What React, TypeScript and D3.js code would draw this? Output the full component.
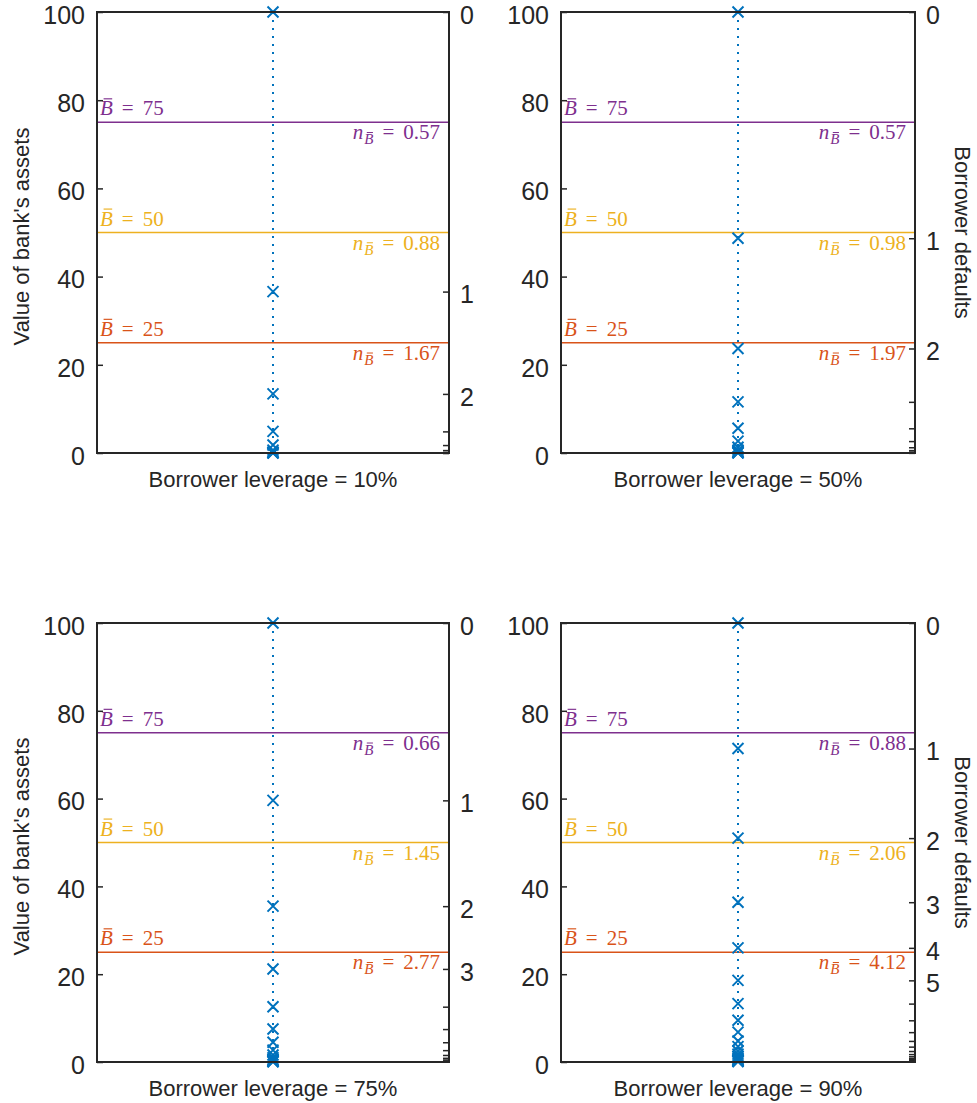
import { useEffect, useRef } from 'react'
import * as d3 from 'd3'

// Values (bank's assets after each borrower default)
const leverage = ['10%', '50%', '75%', '90%']
const assets10 = [100, 36.6, 13.4, 4.9, 1.8, 0.66, 0.24, 0.09, 0.03, 0.01]
const assets50 = [100, 48.7, 23.7, 11.6, 5.6, 2.7, 1.3, 0.65, 0.32, 0.15, 0.07, 0.03]
const assets75 = [100, 59.6, 35.5, 21.2, 12.6, 7.5, 4.5, 2.7, 1.6, 0.95, 0.57, 0.34, 0.2, 0.12, 0.07]
const assets90 = [100, 71.4, 51.0, 36.4, 26.0, 18.6, 13.3, 9.5, 6.8, 4.8, 3.5, 2.5, 1.8, 1.3, 0.9, 0.65, 0.46, 0.33, 0.24, 0.17, 0.12]

const thresholds = [75, 50, 25]
const thresholdColors = ['#7E2F8E', '#EDB120', '#D95319']

const nBar10 = ['0.57', '0.88', '1.67']
const nBar50 = ['0.57', '0.98', '1.97']
const nBar75 = ['0.66', '1.45', '2.77']
const nBar90 = ['0.88', '2.06', '4.12']

const defaults10 = ['0', '1', '2']
const defaults50 = ['0', '1', '2']
const defaults75 = ['0', '1', '2', '3']
const defaults90 = ['0', '1', '2', '3', '4', '5']

const leftTicks = [0, 20, 40, 60, 80, 100]

const W = 977
const H = 1103
const INK = '#262626'
const BLUE = '#0072BD'
const SANS = "'Liberation Sans', Arial, sans-serif"
const SERIF = "'Liberation Serif', serif"

const panels = [
  { lev: leverage[0], assets: assets10, n: nBar10, labels: defaults10, x0: 97, x1: 449, y0: 12, y1: 453, left: true, right: false },
  { lev: leverage[1], assets: assets50, n: nBar50, labels: defaults50, x0: 561, x1: 915, y0: 12, y1: 453, left: false, right: true },
  { lev: leverage[2], assets: assets75, n: nBar75, labels: defaults75, x0: 97, x1: 449, y0: 623, y1: 1062, left: true, right: false },
  { lev: leverage[3], assets: assets90, n: nBar90, labels: defaults90, x0: 561, x1: 915, y0: 623, y1: 1062, left: false, right: true },
]

// draw a bar over character idx of a text node (italic B)
function barOver(g: any, textSel: any, idx: number, baseline: number, fs: number, color: string) {
  const node = textSel.node() as SVGTextElement
  const ext = node.getExtentOfChar(idx)
  const top = baseline - 0.662 * fs
  g.append('line')
    .attr('x1', ext.x + ext.width * 0.28).attr('x2', ext.x + ext.width * 0.95)
    .attr('y1', top - fs * 0.12).attr('y2', top - fs * 0.12)
    .attr('stroke', color).attr('stroke-width', Math.max(1, fs * 0.055))
}

export default function App() {
  const svgRef = useRef<SVGSVGElement>(null)

  useEffect(() => {
    document.body.style.margin = '0'
    if (!svgRef.current) return
    const svg = d3.select(svgRef.current)
    svg.selectAll('*').remove()

    panels.forEach(p => {
      const g = svg.append('g')
      const y = d3.scaleLinear().domain([0, 100]).range([p.y1, p.y0])
      const x = d3.scaleLinear().domain([0, 1]).range([p.x0, p.x1])
      const cx = x(0.5)

      // threshold lines + labels
      thresholds.forEach((t, i) => {
        const c = thresholdColors[i]
        g.append('line')
          .attr('x1', p.x0).attr('x2', p.x1)
          .attr('y1', y(t)).attr('y2', y(t))
          .attr('stroke', c).attr('stroke-width', 1.6)

        const fs = 21
        const b1 = y(t) - 7
        const lbl = g.append('text')
          .attr('x', p.x0 + 3).attr('y', b1)
          .attr('fill', c)
          .attr('font-family', SERIF)
          .attr('font-size', fs)
        lbl.append('tspan').attr('font-style', 'italic').text('B')
        lbl.append('tspan').attr('dx', 9).text('=')
        lbl.append('tspan').attr('dx', 9).text(String(t))
        barOver(g, lbl, 0, b1, fs, c)

        const b2 = y(t) + 17
        const nl = g.append('text')
          .attr('x', p.x1 - 9).attr('y', b2)
          .attr('fill', c)
          .attr('text-anchor', 'end')
          .attr('font-family', SERIF)
          .attr('font-size', fs)
        nl.append('tspan').attr('font-style', 'italic').text('n')
        nl.append('tspan').attr('font-style', 'italic').attr('font-size', 15).attr('dy', 5).attr('dx', 1).text('B')
        nl.append('tspan').attr('dy', -5).attr('dx', 9).text('=')
        nl.append('tspan').attr('dx', 9).text(p.n[i])
        barOver(g, nl, 1, b2 + 5, 15, c)
      })

      // dotted connector
      const line = d3.line<number>().x(() => cx).y(d => y(d))
      g.append('path')
        .attr('d', line([...p.assets, 0]))
        .attr('fill', 'none')
        .attr('stroke', BLUE)
        .attr('stroke-width', 2)
        .attr('stroke-dasharray', '2,6')

      // x markers
      const s = 5.5
      g.selectAll('.mk')
        .data(p.assets)
        .join('path')
        .attr('class', 'mk')
        .attr('transform', d => `translate(${cx},${y(d)})`)
        .attr('d', `M${-s},${-s}L${s},${s}M${-s},${s}L${s},${-s}`)
        .attr('stroke', BLUE)
        .attr('stroke-width', 2)
        .attr('fill', 'none')

      // left axis
      g.append('g')
        .attr('transform', `translate(${p.x0},0)`)
        .call(d3.axisLeft(y).tickValues(leftTicks).tickSizeInner(-6).tickSizeOuter(0).tickPadding(12).tickFormat(d3.format('d')))
        .call(a => {
          a.select('.domain').remove()
          a.selectAll('.tick line').attr('stroke', INK).attr('stroke-width', 1.5)
          a.selectAll('text').attr('fill', INK).attr('font-size', 25).attr('dy', '0.45em')
            .attr('font-family', SANS)
        })

      // right axis: borrower defaults at each marker
      g.append('g')
        .attr('transform', `translate(${p.x1},0)`)
        .call(d3.axisRight(y).tickValues(p.assets).tickSizeInner(-6).tickSizeOuter(0).tickPadding(11)
          .tickFormat((_d, i) => p.labels[i] ?? ''))
        .call(a => {
          a.select('.domain').remove()
          a.selectAll('.tick line').attr('stroke', INK).attr('stroke-width', 1.5)
          a.selectAll('text').attr('fill', INK).attr('font-size', 25).attr('dy', '0.45em')
            .attr('font-family', SANS)
        })

      // box
      g.append('rect')
        .attr('x', p.x0).attr('y', p.y0)
        .attr('width', p.x1 - p.x0).attr('height', p.y1 - p.y0)
        .attr('fill', 'none').attr('stroke', INK).attr('stroke-width', 2)

      // axis labels
      g.append('text')
        .attr('x', (p.x0 + p.x1) / 2).attr('y', p.y1 + 34)
        .attr('text-anchor', 'middle')
        .attr('fill', INK).attr('font-size', 22)
        .attr('font-family', SANS)
        .text(`Borrower leverage = ${p.lev}`)

      const midY = (p.y0 + p.y1) / 2
      if (p.left) {
        g.append('text')
          .attr('transform', `translate(21,${midY + 4}) rotate(-90)`)
          .attr('text-anchor', 'middle').attr('dominant-baseline', 'central')
          .attr('fill', INK).attr('font-size', 22)
          .attr('font-family', SANS)
          .text("Value of bank's assets")
      }
      if (p.right) {
        g.append('text')
          .attr('transform', `translate(962,${midY}) rotate(90)`)
          .attr('text-anchor', 'middle').attr('dominant-baseline', 'central')
          .attr('fill', INK).attr('font-size', 22)
          .attr('font-family', SANS)
          .text('Borrower defaults')
      }
    })
  }, [])

  return (
    <svg ref={svgRef} width={W} height={H} style={{ display: 'block', background: '#fff' }} />
  )
}
